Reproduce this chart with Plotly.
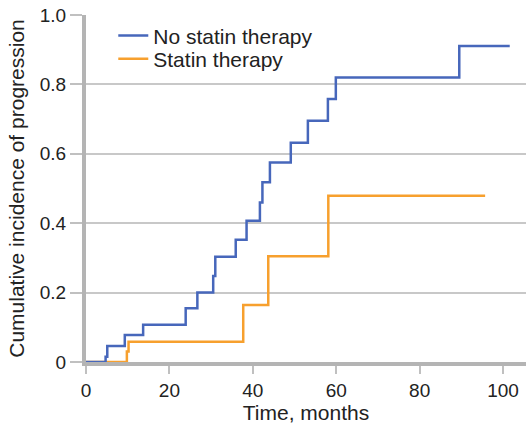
import plotly.graph_objects as go

# Data
no_statin_t = [0, 4.7, 5.1, 9.3, 13.7, 23.9, 26.7, 30.5, 31.0, 35.9, 38.5, 41.7, 42.3, 44.1, 49.1, 53.2, 58.0, 59.9, 89.5, 101.6]
no_statin_v = [0, 0.015, 0.046, 0.078, 0.107, 0.155, 0.2, 0.248, 0.303, 0.352, 0.407, 0.46, 0.518, 0.575, 0.632, 0.695, 0.758, 0.82, 0.911, 0.911]
statin_t = [0, 9.8, 10.2, 37.7, 43.7, 58.1, 95.7]
statin_v = [0, 0.03, 0.058, 0.164, 0.305, 0.479, 0.479]

x_ticks = [0, 20, 40, 60, 80, 100]
y_ticks = [0, 0.2, 0.4, 0.6, 0.8, 1.0]
y_ticktext = ["0", "0.2", "0.4", "0.6", "0.8", "1.0"]

BLUE = "#4767bb"
ORANGE = "#f7a02e"
FONT = "Liberation Sans, Arial, sans-serif"

fig = go.Figure()
fig.add_trace(go.Scatter(x=statin_t, y=statin_v, mode="lines", line_shape="hv",
                         line=dict(color=ORANGE, width=2.5), name="Statin therapy",
                         legend="legend2"))
fig.add_trace(go.Scatter(x=no_statin_t, y=no_statin_v, mode="lines", line_shape="hv",
                         line=dict(color=BLUE, width=2.5), name="No statin therapy",
                         legend="legend"))

leg_common = dict(xanchor="left", yanchor="top", bgcolor="rgba(0,0,0,0)",
                  font=dict(family=FONT, size=21, color="#222"), itemwidth=30)
fig.update_layout(
    width=526, height=428,
    margin=dict(l=86, r=0, t=15, b=66),
    plot_bgcolor="white", paper_bgcolor="white",
    font=dict(family=FONT, size=17.5, color="#222"),
    showlegend=True,
    legend=dict(x=0.062, y=0.999, **leg_common),
    legend2=dict(x=0.062, y=0.932, **leg_common),
)
fig.update_xaxes(range=[0, 105.5], tickvals=x_ticks, showgrid=False, zeroline=False,
                 showline=True, linecolor="#b4b4b4", linewidth=4,
                 ticks="outside", ticklen=8, tickcolor="#c0c0c0", tickwidth=1.5,
                 tickfont=dict(family=FONT, size=19, color="#222"),
                 title=dict(text="Time, months", standoff=4))
fig.update_yaxes(range=[0, 1.0], tickvals=y_ticks, ticktext=y_ticktext,
                 showgrid=True, gridcolor="#c8c8c8", gridwidth=1.5, zeroline=False,
                 showline=True, linecolor="#b4b4b4", linewidth=4,
                 ticks="outside", ticklen=12, tickcolor="#c0c0c0", tickwidth=1.5,
                 tickfont=dict(family=FONT, size=19, color="#222"),
                 title=dict(text="Cumulative incidence of progression", standoff=10))

fig.write_html("out.html")
